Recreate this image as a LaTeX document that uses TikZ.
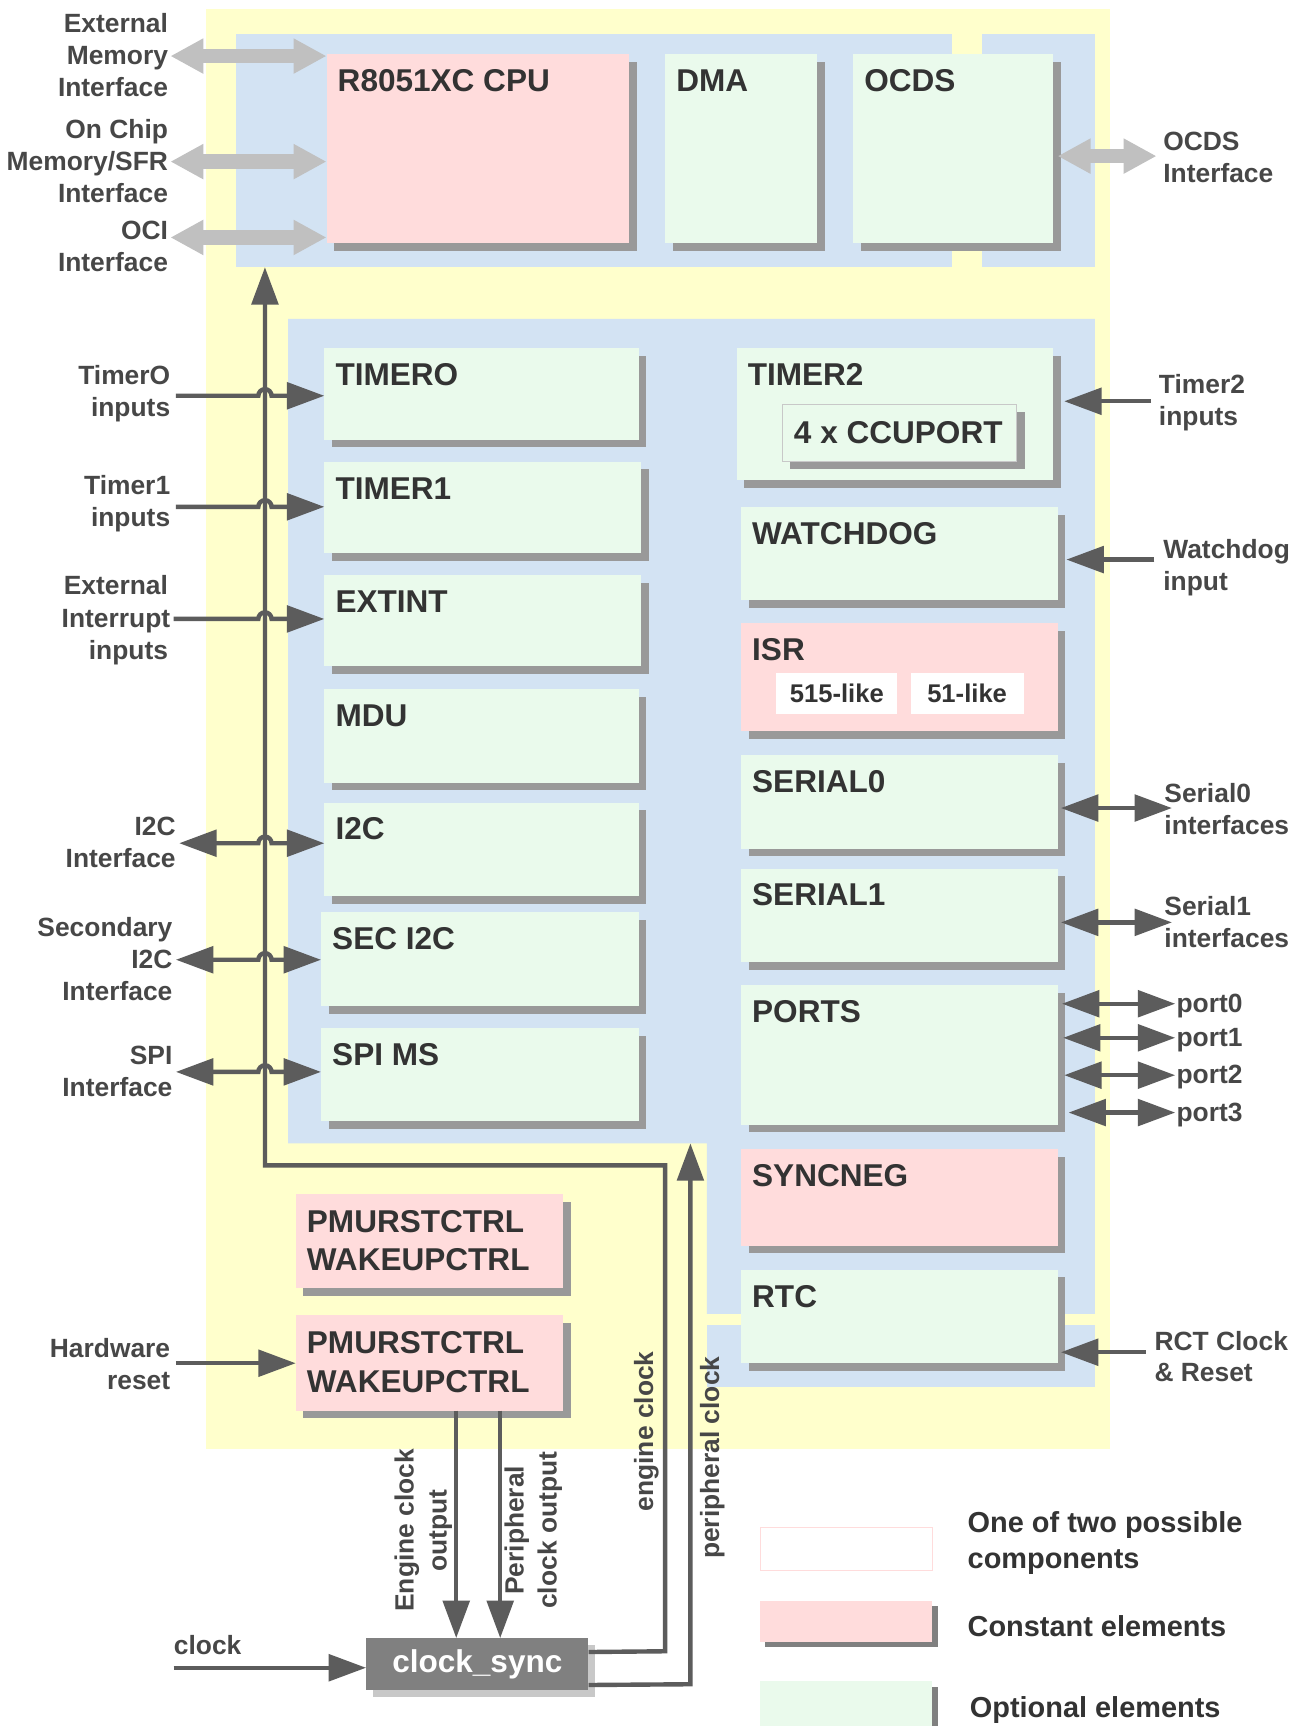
\documentclass[tikz,border=0pt]{standalone}
\usepackage{fontspec}
\setmainfont{Liberation Sans}
\usetikzlibrary{arrows.meta,shadows,calc}
\definecolor{ylw}{HTML}{FFFFCC}
\definecolor{blu}{HTML}{D3E3F3}
\definecolor{grn}{HTML}{EAFAEC}
\definecolor{pnk}{HTML}{FFDCDC}
\definecolor{shd}{HTML}{999999}
\definecolor{ttl}{HTML}{333333}
\definecolor{lbc}{HTML}{474747}
\definecolor{darr}{HTML}{5C5C5C}
\definecolor{larr}{HTML}{C0C0C0}
\definecolor{csg}{HTML}{808080}
\definecolor{csh}{HTML}{C8C8C8}
\tikzset{
  blk/.style={anchor=north west, inner sep=0pt, outer sep=0pt,
    general shadow={fill=shd, shadow xshift=7pt, shadow yshift=-7pt}},
  grnbox/.style={blk, fill=grn},
  pnkbox/.style={blk, fill=pnk},
  ttlt/.style={anchor=base west, inner sep=0pt, text=ttl, font=\bfseries\fontsize{28.7}{30}\selectfont},
  lab/.style={inner sep=0pt, text=lbc, font=\bfseries\fontsize{24}{29}\selectfont},
  rlab/.style={lab, font=\bfseries\fontsize{24}{30}\selectfont},
  legt/.style={inner sep=0pt, anchor=base west, text=ttl, font=\bfseries\fontsize{26.3}{30}\selectfont},
  darrow/.style={draw=darr, line width=4pt, -{Triangle[length=34pt,width=24pt]}},
  ddarrow/.style={draw=darr, line width=4pt, {Triangle[length=34pt,width=24pt]}-{Triangle[length=34pt,width=24pt]}},
  larrow/.style={draw=larr, line width=13pt, {Triangle[length=30pt,width=30pt]}-{Triangle[length=30pt,width=30pt]}},
}
\newcommand\mkblk[7]{%
  \node[#6, minimum width={#4pt-#2pt}, minimum height={#5pt-#3pt}] (#1) at (#2,#3) {};
  \node[ttlt] (#1t) at (#2+10,#3+34) {#7};}
\newcommand\lblR[4]{\node[lab, anchor=base east] (#1) at (#2,#3) {#4};}
\newcommand\lblL[4]{\node[lab, anchor=base west] (#1) at (#2,#3) {#4};}
\newcommand\hoparrow[4]{%
  \coordinate (#4s) at (#2,#3);
  \draw[#1] (#4s) -- (235,#3) arc[start angle=180, end angle=0, radius=6pt] -- (#4.west |- #4s);}
\begin{document}
\begin{tikzpicture}[x=1pt, y=-1pt]
\useasboundingbox (0,0) rectangle (1190,1570);
\fill[white] (0,0) rectangle (1190,1570);
% panels
\fill[ylw] (187,8) rectangle (1010,1318);
\fill[blu] (215,31) rectangle (866,243);
\fill[blu] (893,31) rectangle (996,243);
\fill[blu] (262,290) -- (996,290) -- (996,1195) -- (643,1195) -- (643,1040) -- (262,1040) -- cycle;
\fill[blu] (643,1205) rectangle (996,1262);
% top blocks
\mkblk{cpu}{297}{49}{572}{221}{pnkbox}{R8051XC CPU}
\mkblk{dma}{605}{49}{743}{221}{grnbox}{DMA}
\mkblk{ocds}{776}{49}{958}{221}{grnbox}{OCDS}
% left column
\mkblk{tzero}{295}{317}{581}{400}{grnbox}{TIMERO}
\mkblk{tone}{295}{420}{583}{503}{grnbox}{TIMER1}
\mkblk{ext}{295}{523}{583}{606}{grnbox}{EXTINT}
\mkblk{mdu}{295}{627}{581}{712}{grnbox}{MDU}
\mkblk{iic}{295}{730}{581}{815}{grnbox}{I2C}
\mkblk{sec}{292}{830}{581}{915}{grnbox}{SEC I2C}
\mkblk{spi}{292}{935}{581}{1020}{grnbox}{SPI MS}
% right column
\mkblk{ttwo}{670}{317}{958}{437}{grnbox}{TIMER2}
\node[blk, fill=grn, draw=csh, line width=1pt, minimum width=213pt, minimum height=52pt] (ccu) at (712,368) {};
\node[ttlt] (ccut) at (722,403) {4 x CCUPORT};
\mkblk{wd}{674}{461}{962}{546}{grnbox}{WATCHDOG}
\mkblk{isr}{674}{567}{962}{665}{pnkbox}{ISR}
\node[anchor=north west, fill=white, inner sep=0pt, minimum width=110pt, minimum height=37pt,
  text=ttl, font=\bfseries\fontsize{23.3}{26}\selectfont] (isra) at (706,612) {515-like};
\node[anchor=north west, fill=white, inner sep=0pt, minimum width=103pt, minimum height=37pt,
  text=ttl, font=\bfseries\fontsize{23.3}{26}\selectfont] (isrb) at (828,612) {51-like};
\mkblk{szero}{674}{687}{962}{772}{grnbox}{SERIAL0}
\mkblk{sone}{674}{790}{962}{875}{grnbox}{SERIAL1}
\mkblk{ports}{674}{896}{962}{1023}{grnbox}{PORTS}
\mkblk{sync}{674}{1045}{962}{1133}{pnkbox}{SYNCNEG}
\mkblk{rtc}{674}{1155}{962}{1240}{grnbox}{RTC}
% PMU blocks
\node[pnkbox, minimum width=243pt, minimum height=86pt] (pmua) at (269,1086) {};
\node[ttlt] (pmuat) at (279,1121) {PMURSTCTRL};
\node[ttlt] (pmuau) at (279,1156) {WAKEUPCTRL};
\node[pnkbox, minimum width=243pt, minimum height=87pt] (pmub) at (269,1196) {};
\node[ttlt] (pmubt) at (279,1231) {PMURSTCTRL};
\node[ttlt] (pmubu) at (279,1267) {WAKEUPCTRL};
% clock_sync
\node[anchor=north west, inner sep=0pt, fill=csg, general shadow={fill=csh, shadow xshift=6pt, shadow yshift=-6pt},
  minimum width=202pt, minimum height=47pt, text=white, font=\bfseries\fontsize{28.7}{30}\selectfont] (cs) at (333,1490) {clock\_sync};
% light grey interface arrows
\coordinate (emi) at (155,51);
\coordinate (ocm) at (155,147);
\coordinate (oci) at (155,216);
\draw[larrow] (emi) -- (cpu.west |- emi);
\draw[larrow] (ocm) -- (cpu.west |- ocm);
\draw[larrow] (oci) -- (cpu.west |- oci);
\coordinate (ocdsi) at (1052,142);
\draw[larrow] ($(ocds.east |- ocdsi)+(4,0)$) -- (ocdsi);
\lblR{l1}{153}{30}{External}
\lblR{l2}{153}{59}{Memory}
\lblR{l3}{153}{88}{Interface}
\lblR{l4}{153}{126}{On Chip}
\lblR{l5}{153}{155}{Memory/SFR}
\lblR{l6}{153}{184}{Interface}
\lblR{l7}{153}{218}{OCI}
\lblR{l8}{153}{247}{Interface}
\lblL{r1}{1058}{137}{OCDS}
\lblL{r2}{1058}{166}{Interface}
% bus and clocks
\coordinate (busTop) at (241,243);
\draw[darrow] ($(cs.east)+(0,-11)$) -- (605,1502) -- (605,1060) -- (241,1060) -- (busTop);
\draw[darrow] ($(cs.east)+(0,19)$) -- (628,1532) -- (628,1040);
\draw[darrow] ([xshift=146pt]pmub.south west) -- ([xshift=82pt]cs.north west);
\draw[darrow] ([xshift=186pt]pmub.south west) -- ([xshift=122pt]cs.north west);
\coordinate (clk) at (158,1517);
\draw[darrow] (clk) -- (cs.west |- clk);
\lblL{clkl}{158}{1505}{clock}
\coordinate (hwr) at (160,1240);
\draw[darrow] (hwr) -- (pmub.west |- hwr);
\lblR{hw1}{155}{1235}{Hardware}
\lblR{hw2}{155}{1264}{reset}
\node[rlab, rotate=90, align=center] (ecout) at (385,1392) {Engine clock\\output};
\node[rlab, rotate=90, align=center] (pcout) at (485,1392) {Peripheral\\clock output};
\node[rlab, rotate=90] (engc) at (588,1302) {engine clock};
\node[rlab, rotate=90] (perc) at (648,1326) {peripheral clock};
% left inputs with hops
\hoparrow{darrow}{160}{360}{tzero}
\hoparrow{darrow}{160}{461}{tone}
\hoparrow{darrow}{158}{563}{ext}
\hoparrow{ddarrow}{163}{767}{iic}
\hoparrow{ddarrow}{160}{873}{sec}
\hoparrow{ddarrow}{160}{975}{spi}
\lblR{a1}{155}{350}{TimerO}
\lblR{a2}{155}{379}{inputs}
\lblR{b1}{155}{450}{Timer1}
\lblR{b2}{155}{479}{inputs}
\lblR{c1}{153}{541}{External}
\lblR{c2}{155}{571}{Interrupt}
\lblR{c3}{153}{600}{inputs}
\lblR{d1}{160}{760}{I2C}
\lblR{d2}{160}{789}{Interface}
\lblR{e1}{157}{852}{Secondary}
\lblR{e2}{157}{881}{I2C}
\lblR{e3}{157}{910}{Interface}
\lblR{f1}{157}{968}{SPI}
\lblR{f2}{157}{997}{Interface}
% right inputs
\coordinate (ttwoi) at (1047,365);
\draw[darrow] (ttwoi) -- ($(ttwo.east |- ttwoi)+(10,0)$);
\lblL{g1}{1054}{358}{Timer2}
\lblL{g2}{1054}{387}{inputs}
\coordinate (wdi) at (1050,509);
\draw[darrow] (wdi) -- ($(wd.east |- wdi)+(8,0)$);
\lblL{h1}{1058}{508}{Watchdog}
\lblL{h2}{1058}{537}{input}
\coordinate (szi) at (1066,735);
\draw[ddarrow] ($(szero.east |- szi)+(3,0)$) -- (szi);
\lblL{i1}{1059}{730}{Serial0}
\lblL{i2}{1059}{759}{interfaces}
\coordinate (soi) at (1066,839);
\draw[ddarrow] ($(sone.east |- soi)+(3,0)$) -- (soi);
\lblL{j1}{1059}{833}{Serial1}
\lblL{j2}{1059}{862}{interfaces}
\coordinate (pz) at (1069,913);
\coordinate (po) at (1069,944);
\coordinate (pt) at (1069,978);
\coordinate (pth) at (1069,1012);
\draw[ddarrow] ($(ports.east |- pz)+(4,0)$) -- (pz);
\draw[ddarrow] ($(ports.east |- po)+(5,0)$) -- (po);
\draw[ddarrow] ($(ports.east |- pt)+(6,0)$) -- (pt);
\draw[ddarrow] ($(ports.east |- pth)+(10,0)$) -- (pth);
\lblL{k0}{1070}{921}{port0}
\lblL{k1}{1070}{952}{port1}
\lblL{k2}{1070}{986}{port2}
\lblL{k3}{1070}{1020}{port3}
\coordinate (rtci) at (1042,1230);
\draw[darrow] (rtci) -- ($(rtc.east |- rtci)+(3,0)$);
\lblL{m1}{1050}{1228}{RCT Clock}
\lblL{m2}{1050}{1257}{\&~Reset}
% legend
\node[anchor=north west, inner sep=0pt, fill=white, draw=pnk, line width=1pt, minimum width=157pt, minimum height=39pt] (lga) at (691,1389) {};
\node[anchor=north west, inner sep=0pt, fill=pnk, general shadow={fill=csg, shadow xshift=5pt, shadow yshift=-5pt},
  minimum width=157pt, minimum height=37pt] (lgb) at (691,1456) {};
\node[anchor=north west, inner sep=0pt, fill=grn, general shadow={fill=csg, shadow xshift=5pt, shadow yshift=-5pt},
  minimum width=157pt, minimum height=46pt] (lgc) at (691,1529) {};
\node[legt] (lgat) at (880,1394) {One of two possible};
\node[legt] (lgau) at (880,1427) {components};
\node[legt] (lgbt) at (880,1489) {Constant elements};
\node[legt] (lgct) at (882,1562) {Optional elements};
\end{tikzpicture}
\end{document}
